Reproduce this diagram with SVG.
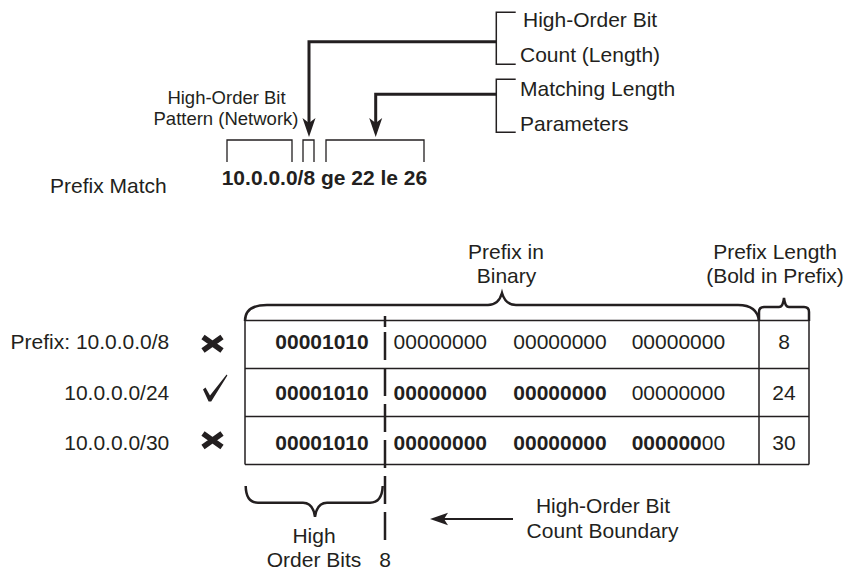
<svg xmlns="http://www.w3.org/2000/svg" width="846" height="570" viewBox="0 0 846 570">
<style>
text{font-family:"Liberation Sans",Arial,Helvetica,sans-serif;font-size:21px;fill:#231f20}
.b{font-weight:bold}
.sm{font-size:18.5px}
.m{text-anchor:middle}
.e{text-anchor:end}
.thin{fill:none;stroke:#231f20;stroke-width:1.3}
.thick{fill:none;stroke:#231f20;stroke-width:3}
.brace{fill:none;stroke:#231f20;stroke-width:2.5}
.grid{fill:none;stroke:#231f20;stroke-width:1.5}
.ah{fill:#231f20;stroke:none}
.dash{fill:none;stroke:#231f20;stroke-width:2.5;stroke-dasharray:11 5 28 8 28 8 28 8 28 8 28 8 28 8 18 8}
.x{fill:none;stroke:#231f20;stroke-width:5.5}
</style>
<rect width="846" height="570" fill="#fff"/>
<g id="connectors">
  <path class="thick" d="M496.3,41.7 H309 V124"/>
  <polygon class="ah" points="309,137 302.5,118 309,123 315.5,118"/>
  <path class="thick" d="M496.3,94.3 H375.7 V124"/>
  <polygon class="ah" points="375.7,137 369.2,118 375.7,123 382.2,118"/>
  <path d="M513,519 H444" fill="none" stroke="#231f20" stroke-width="2"/>
  <polygon class="ah" points="430,519 448,512.7 444,519 448,525.3"/>
</g>
<g id="param-brackets">
  <path class="grid" d="M515.7,12.3 H496.3 V64.3 H515.7"/>
  <path class="grid" d="M515.7,79.3 H496.3 V132.3 H515.7"/>
  <text x="523" y="27">High-Order Bit</text>
  <text x="520" y="61.5">Count (Length)</text>
  <text x="520" y="96">Matching Length</text>
  <text x="520" y="131">Parameters</text>
</g>
<g id="pattern-label">
  <text class="sm m" x="226.5" y="104">High-Order Bit</text>
  <text class="sm m" x="226" y="125">Pattern (Network)</text>
</g>
<g id="prefix-match">
  <path class="thin" d="M227,162 V140 H292 V162"/>
  <path class="thin" d="M303,162 V140 H314 V162"/>
  <path class="thin" d="M326,162 V140 H424 V162"/>
  <text x="50" y="192.5">Prefix Match</text>
  <text class="b" x="221.7" y="185">10.0.0.0/8 ge 22 le 26</text>
</g>
<g id="headers">
  <text class="m" x="506" y="259">Prefix in</text>
  <text class="m" x="506.5" y="283">Binary</text>
  <text class="m" x="775" y="259">Prefix Length</text>
  <text class="m" x="775" y="283">(Bold in Prefix)</text>
  <path class="brace" d="M245,321 C245,310 252,305 267,305 H488 C496,305 500,300 502,293 C504,300 508,305 516,305 H738 C752,305 758,312 759,321"/>
  <path class="brace" d="M759,321 V312 Q759,307 764,307 H779 Q783,307 784,298 Q785,307 789,307 H804 Q809,307 809,312 V321"/>
</g>
<g id="table">
  <path class="grid" d="M245,320.5 H809 M245,368.5 H809 M245,416.5 H809 M245,464.5 H809 M245,320 V464.5 M759,320 V464.5 M809,312 V464.5"/>
  <path class="dash" d="M385,316 V548"/>
</g>
<g id="row1">
  <text class="e" x="169.3" y="349.3">Prefix: 10.0.0.0/8</text>
  <path class="x" d="M203,337 L222,350.5 M222,337 L203,350.5"/>
  <text class="b" x="275.3" y="349.3">00001010</text>
  <text x="393.6" y="349.3">00000000</text>
  <text x="513.3" y="349.3">00000000</text>
  <text x="631.7" y="349.3">00000000</text>
  <text class="m" x="784" y="349.3">8</text>
</g>
<g id="row2">
  <text class="e" x="169.3" y="400">10.0.0.0/24</text>
  <polygon class="ah" points="203,389.5 205.5,387.5 210,395.5 226.6,374.6 227.4,375.4 211.2,401.5 208.6,401.5"/>
  <text class="b" x="275.3" y="400">00001010</text>
  <text class="b" x="393.6" y="400">00000000</text>
  <text class="b" x="513.3" y="400">00000000</text>
  <text x="631.7" y="400">00000000</text>
  <text class="m" x="784" y="400">24</text>
</g>
<g id="row3">
  <text class="e" x="169.3" y="450">10.0.0.0/30</text>
  <path class="x" d="M203,433.5 L222,447 M222,433.5 L203,447"/>
  <text class="b" x="275.3" y="450">00001010</text>
  <text class="b" x="393.6" y="450">00000000</text>
  <text class="b" x="513.3" y="450">00000000</text>
  <text x="631.7" y="450"><tspan class="b">000000</tspan>00</text>
  <text class="m" x="784" y="450">30</text>
</g>
<g id="high-order-bits">
  <path class="brace" d="M245.7,486 Q246,502.7 258,502.7 H303 Q313,502.7 315,516.7 Q317,502.7 327,502.7 H370 Q382,502.7 382.7,486"/>
  <text class="m" x="314" y="543">High</text>
  <text class="m" x="314" y="566.7">Order Bits</text>
  <text class="m" x="385" y="566.7">8</text>
</g>
<g id="boundary-label">
  <text class="m" x="603" y="513.3">High-Order Bit</text>
  <text class="m" x="602.5" y="538.3">Count Boundary</text>
</g>
</svg>
